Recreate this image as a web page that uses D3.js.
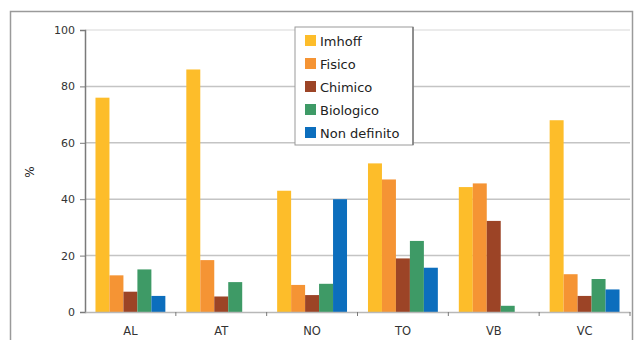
<!DOCTYPE html>
<html>
<head>
<meta charset="utf-8">
<script src="https://cdn.jsdelivr.net/npm/d3@7"></script>
<style>
  html, body { margin: 0; padding: 0; background: #fff; }
  svg { display: block; font-family: "DejaVu Sans", Verdana, sans-serif; }
</style>
</head>
<body>
<svg id="chart" width="634" height="340"></svg>
<script>
// Provinces and treatment types
const categories = ["AL", "AT", "NO", "TO", "VB", "VC"];
const seriesNames = ["Imhoff", "Fisico", "Chimico", "Biologico", "Non definito"];
const seriesColors = ["#fdbd2a", "#f59434", "#9c4426", "#3e9a66", "#0c6ebd"];

// Percentage per province, one array per treatment type
const imhoff      = [76, 86, 43, 52.7, 44.3, 68];
const fisico      = [13, 18.4, 9.6, 47, 45.6, 13.4];
const chimico     = [7.2, 5.5, 6, 19, 32.3, 5.7];
const biologico   = [15.1, 10.6, 10, 25.2, 2.2, 11.7];
const nonDefinito = [5.7, 0, 40, 15.7, 0, 8];
const seriesValues = [imhoff, fisico, chimico, biologico, nonDefinito];

const yTicks = [0, 20, 40, 60, 80, 100];

const svg = d3.select("#chart");

// Outer frame
svg.append("rect")
  .attr("x", 10.5).attr("y", 11.5)
  .attr("width", 622).attr("height", 340)
  .attr("fill", "none").attr("stroke", "#9a9a9a").attr("stroke-width", 1.5);

const plotLeft = 85, plotRight = 630, plotTop = 30, plotBottom = 312;

const x0 = d3.scaleBand().domain(categories).range([plotLeft, plotRight]).paddingInner(0).paddingOuter(0);
const x1 = d3.scaleBand().domain(seriesNames).range([0, x0.bandwidth()]).paddingInner(0).paddingOuter(0.75);
const y = d3.scaleLinear().domain([0, 100]).range([plotBottom, plotTop]);

// Horizontal gridlines
svg.append("g").selectAll("line").data(yTicks.filter(d => d > 0)).join("line")
  .attr("x1", plotLeft).attr("x2", plotRight)
  .attr("y1", d => y(d)).attr("y2", d => y(d))
  .attr("stroke", d => d === 100 ? "#e4e4e4" : "#c4c4c4")
  .attr("stroke-width", 1.5);

// Bars
const rows = categories.map((c, i) => ({ cat: c, vals: seriesNames.map((s, j) => ({ s, j, v: seriesValues[j][i] })) }));
svg.append("g").selectAll("g").data(rows).join("g")
  .attr("transform", d => `translate(${x0(d.cat)},0)`)
  .selectAll("rect").data(d => d.vals.filter(e => e.v > 0)).join("rect")
  .attr("x", d => x1(d.s))
  .attr("width", x1.bandwidth())
  .attr("y", d => y(d.v))
  .attr("height", d => y(0) - y(d.v))
  .attr("fill", d => seriesColors[d.j]);

// Y axis
const yAxis = svg.append("g").attr("transform", `translate(${plotLeft},0)`)
  .call(d3.axisLeft(y).tickValues(yTicks).tickSize(5).tickPadding(5));
yAxis.select(".domain").attr("stroke", "#7a7a7a").attr("stroke-width", 1.5);
yAxis.selectAll(".tick line").attr("stroke", "#7a7a7a");
yAxis.selectAll("text").attr("fill", "#333").style("font-size", "11px")
  .style("font-family", "'DejaVu Sans', sans-serif");

// X axis
const xAxis = svg.append("g").attr("transform", `translate(0,${plotBottom})`)
  .call(d3.axisBottom(x0).tickSize(0).tickPadding(15));
xAxis.select(".domain").attr("stroke", "#b8b8b8").attr("stroke-width", 1.5);
xAxis.selectAll("text").attr("fill", "#333").style("font-size", "11.5px")
  .style("font-family", "'DejaVu Sans', sans-serif");
// Separators between categories
svg.append("g").selectAll("line").data(categories.slice(1).concat(["end"])).join("line")
  .attr("x1", d => d === "end" ? plotRight : x0(d)).attr("x2", d => d === "end" ? plotRight : x0(d))
  .attr("y1", plotBottom).attr("y2", plotBottom + 4)
  .attr("stroke", "#7a7a7a");

// Y title
svg.append("text")
  .attr("transform", "translate(34,172) rotate(-90)")
  .attr("text-anchor", "middle")
  .attr("fill", "#222")
  .style("font-size", "12px")
  .text("%");

// Legend
const lg = svg.append("g").attr("transform", "translate(295,27)");
lg.append("rect").attr("width", 118).attr("height", 118)
  .attr("fill", "#fff").attr("stroke", "#9a9a9a").attr("stroke-width", 1);
lg.append("line").attr("x1", 118).attr("x2", 118).attr("y1", 0).attr("y2", 118)
  .attr("stroke", "#7a7a7a").attr("stroke-width", 1.5);
const items = lg.selectAll("g.item").data(seriesNames).join("g")
  .attr("class", "item")
  .attr("transform", (d, i) => `translate(10,${14 + i * 23})`);
items.append("rect").attr("x", 0).attr("y", -6).attr("width", 11).attr("height", 11)
  .attr("fill", (d, i) => seriesColors[i]);
items.append("text").attr("x", 15).attr("y", 4.5)
  .attr("fill", "#222").style("font-size", "13px")
  .text(d => d);
</script>
</body>
</html>
